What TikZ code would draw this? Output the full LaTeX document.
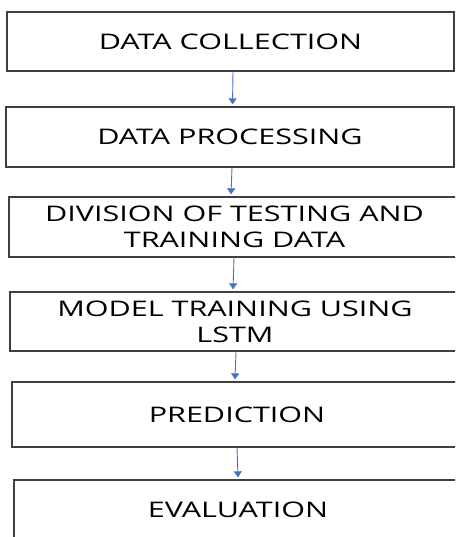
\documentclass[tikz,border=0pt]{standalone}
\usepackage{fontspec}
\setmainfont{Open Sans}[FakeStretch=1.42]
\usetikzlibrary{arrows.meta}
\definecolor{flowblue}{HTML}{4472C4}
\definecolor{boxgray}{HTML}{404040}
\begin{document}
\begin{tikzpicture}[x=1pt,y=-1pt,
	stepbox/.style={draw=boxgray,line width=1.3pt,fill=white,inner sep=0pt,align=center,
	  font=\fontsize{21.5}{26}\selectfont},
	flow/.style={flowblue,line width=0.9pt,-{Triangle[width=8pt,length=6pt]}}]
	%page size
	\useasboundingbox (0,0) rectangle (455,537);
	\clip (0,0) rectangle (455,537);

	%steps
	\node[stepbox,minimum width=447pt,minimum height=59pt] (collect) at (230.5,41.5) {DATA COLLECTION}; %step 1
	\node[stepbox,minimum width=448pt,minimum height=60pt] (process) at (230,137) {DATA PROCESSING}; %step 2
	\node[stepbox,minimum width=451pt,minimum height=60pt] (divide) at (234.5,227) {DIVISION OF TESTING AND\\TRAINING DATA}; %step 3
	\node[stepbox,minimum width=450pt,minimum height=59pt] (train) at (235,321.5) {MODEL TRAINING USING\\LSTM}; %step 4
	\node[stepbox,minimum width=450pt,minimum height=65pt] (predict) at (237,414.5) {PREDICTION}; %step 5
	\node[stepbox,minimum width=448pt,minimum height=60pt] (evaluate) at (238,510) {EVALUATION}; %step 6

	%arrows
	\draw[flow] ([xshift=2.5pt]collect.south) -- ([xshift=2.5pt,yshift=2pt]process.north); %1 to 2
	\draw[flow] ([xshift=2pt]process.south) -- ([xshift=-3.5pt,yshift=2pt]divide.north); %2 to 3
	\draw[flow] ([xshift=-0.5pt]divide.south) -- ([xshift=-2pt,yshift=2pt]train.north); %3 to 4
	\draw[flow] ([xshift=1pt]train.south) -- ([xshift=-2pt,yshift=2pt]predict.north); %4 to 5
	\draw[flow] (predict.south) -- ([yshift=2pt]evaluate.north); %5 to 6
\end{tikzpicture}
\end{document}
